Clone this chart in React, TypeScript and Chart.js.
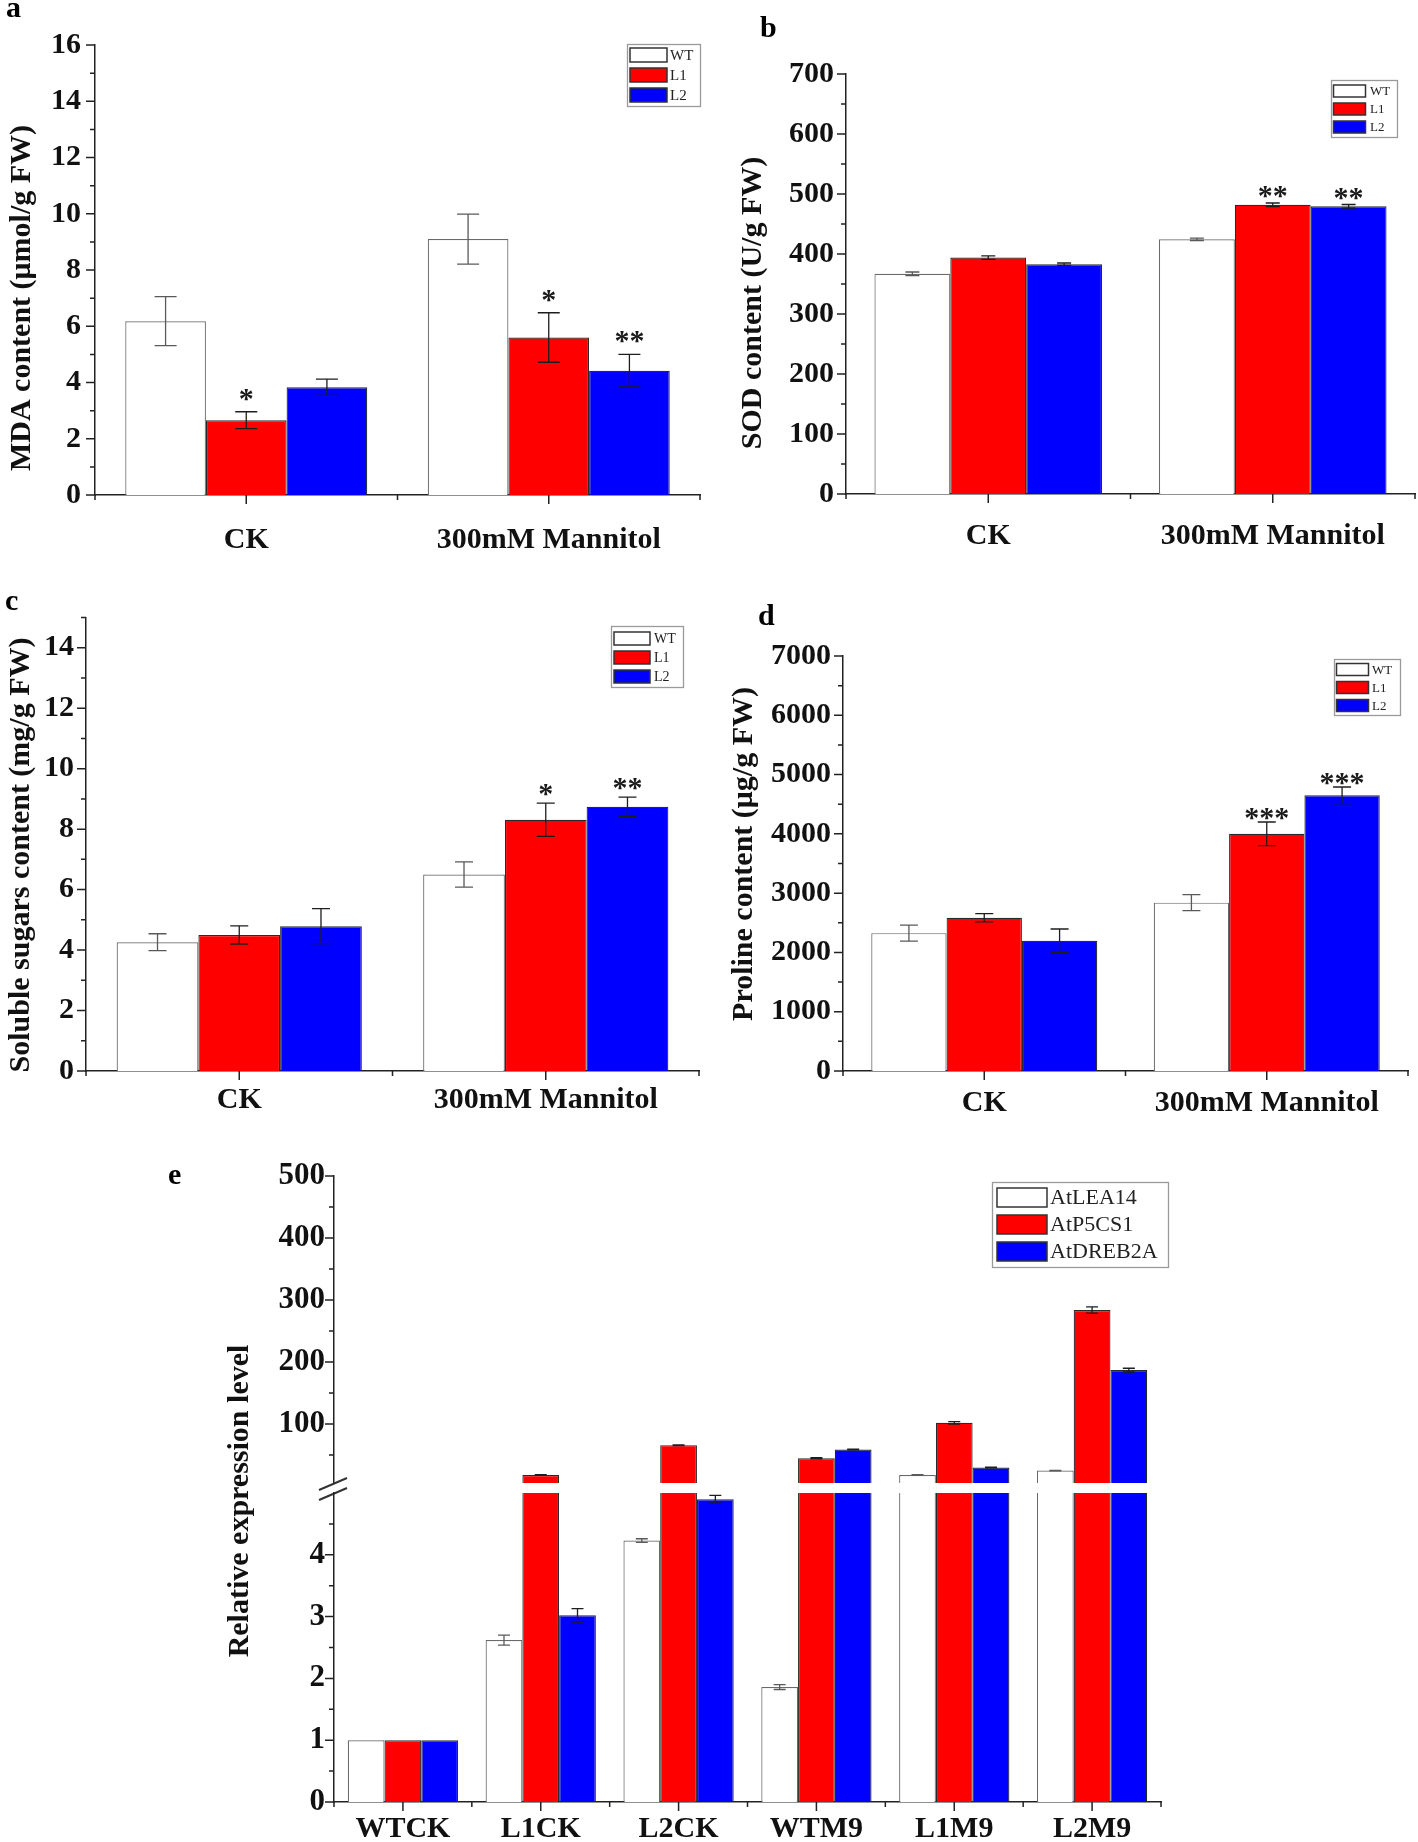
import React, { useEffect, useRef } from 'react';
import { Chart, registerables } from 'chart.js';

Chart.register(...registerables);

const FONT = "'Liberation Serif', 'Times New Roman', Times, serif";
const WHITE = '#ffffff';
const RED = '#ff0000';
const BLUE = '#0000ff';

// ---------- shared categories ----------
const groupLabels = ['CK', '300mM Mannitol'];
const lineNames = ['WT', 'L1', 'L2'];

// ---------- panel a: MDA content (μmol/g FW) ----------
const mdaWT = [6.18, 9.1];
const mdaWTsd = [0.87, 0.89];
const mdaL1 = [2.66, 5.6];
const mdaL1sd = [0.3, 0.88];
const mdaL2 = [3.83, 4.42];
const mdaL2sd = [0.29, 0.58];
const mdaStarsL1 = ['*', '*'];
const mdaStarsL2 = ['', '**'];

// ---------- panel b: SOD content (U/g FW) ----------
const sodWT = [367, 424.5];
const sodWTsd = [3, 2];
const sodL1 = [394, 482];
const sodL1sd = [3, 3];
const sodL2 = [383, 479.5];
const sodL2sd = [2, 3];
const sodStarsL1 = ['', '**'];
const sodStarsL2 = ['', '**'];

// ---------- panel c: Soluble sugars content (mg/g FW) ----------
const sugWT = [4.26, 6.5];
const sugWTsd = [0.28, 0.42];
const sugL1 = [4.5, 8.31];
const sugL1sd = [0.3, 0.55];
const sugL2 = [4.79, 8.74];
const sugL2sd = [0.58, 0.32];
const sugStarsL1 = ['', '*'];
const sugStarsL2 = ['', '**'];

// ---------- panel d: Proline content (μg/g FW) ----------
const proWT = [2325, 2840];
const proWTsd = [135, 135];
const proL1 = [2584, 4000];
const proL1sd = [70, 200];
const proL2 = [2195, 4650];
const proL2sd = [200, 140];
const proStarsL1 = ['', '***'];
const proStarsL2 = ['', '***'];

// ---------- panel e: relative expression ----------
const sampleLabels = ['WTCK', 'L1CK', 'L2CK', 'WTM9', 'L1M9', 'L2M9'];
const geneNames = ['AtLEA14', 'AtP5CS1', 'AtDREB2A'];
const lea14 = [1, 2.62, 4.23, 1.86, 18, 25];
const lea14sd = [0, 0.08, 0.03, 0.04, 0.4, 0.5];
const p5cs1 = [1, 18, 66, 45, 102, 284];
const p5cs1sd = [0, 0.6, 0.6, 1, 2, 5];
const dreb2a = [1, 3.02, 4.9, 59, 30, 187];
const dreb2asd = [0, 0.11, 0.06, 0.6, 0.6, 3];

// ---------- types ----------
type Rect = { left: number; top: number; w: number; h: number };
type Area = { l: number; t: number; r: number; b: number };
type Series = {
  label: string;
  data: number[];
  sd: number[];
  stars?: string[];
  fill: string;
  edge: string;
  errColor: string;
};
type LegendSpec = {
  x: number; y: number; w: number; h: number;
  sx: number; sw: number; sh: number; first: number; pitch: number;
  tx: number; fs: number;
};
type Spec = {
  canvas: Rect;
  area: Area;
  labels: string[];
  series: Series[];
  y: { min: number; max: number; major: number; minor: number; labelMin?: number; labelMax?: number; skipMin?: boolean; skipMax?: boolean };
  showX: boolean;
  xPad: number;
  xFont: number;
  yFont: number;
  yPad: number;
  yTitle?: { text: string; cx: number; cy: number; size: number };
  tag?: { text: string; x: number; y: number; size: number };
  legend?: LegendSpec;
  starOffset: number;
  cap: number;
  breakMarks?: number[][];
};

function threeSeries(
  names: string[],
  vals: number[][],
  sds: number[][],
  stars: (string[] | undefined)[],
): Series[] {
  const fills = [WHITE, RED, BLUE];
  return names.map((n, i) => ({
    label: n,
    data: vals[i],
    sd: sds[i],
    stars: stars[i],
    fill: fills[i],
    edge: i === 0 ? '#6a6a6a' : '#2a2a2a',
    errColor: i === 0 ? '#5a5a5a' : '#1e1e1e',
  }));
}

function makeChart(el: HTMLCanvasElement, s: Spec) {
  const ox = s.canvas.left;
  const oy = s.canvas.top;
  const A = { l: s.area.l - ox, t: s.area.t - oy, r: s.area.r - ox, b: s.area.b - oy };
  const yWidth = A.l;
  const xHeight = s.showX ? s.canvas.h - A.b : 0;
  const padBottom = s.showX ? 0 : s.canvas.h - A.b;
  const padRight = s.canvas.w - A.r;

  // labelled (major) tick values for the y scale
  const majorTicks: number[] = [];
  {
    const y = s.y;
    const first = Math.ceil(y.min / y.major - 1e-9) * y.major;
    for (let v = first; v <= y.max + 1e-9; v += y.major) {
      if (y.labelMin !== undefined && v < y.labelMin) continue;
      if (y.labelMax !== undefined && v > y.labelMax) continue;
      majorTicks.push(Math.round(v * 1e6) / 1e6);
    }
  }

  const decor = {
    id: 'decor',
    afterDatasetsDraw(chart: any) {
      const ctx = chart.ctx as CanvasRenderingContext2D;
      const ys = chart.scales.y;
      ctx.save();
      s.series.forEach((ser, i) => {
        const meta = chart.getDatasetMeta(i);
        ser.data.forEach((v, j) => {
          const e = ser.sd[j];
          const bar = meta.data[j] as any;
          const x = bar.x;
          if (e > 0 && v - e >= s.y.min && v + e <= s.y.max) {
            const yt = ys.getPixelForValue(v + e);
            const yb = ys.getPixelForValue(v - e);
            ctx.strokeStyle = ser.errColor;
            ctx.lineWidth = 1.3;
            ctx.beginPath();
            ctx.moveTo(x, yt);
            ctx.lineTo(x, yb);
            ctx.moveTo(x - s.cap, yt);
            ctx.lineTo(x + s.cap, yt);
            ctx.moveTo(x - s.cap, yb);
            ctx.lineTo(x + s.cap, yb);
            ctx.stroke();
          }
          const st = ser.stars ? ser.stars[j] : '';
          if (st) {
            ctx.fillStyle = '#1a1a1a';
            ctx.font = `bold 30px ${FONT}`;
            ctx.textAlign = 'center';
            ctx.textBaseline = 'alphabetic';
            ctx.fillText(st, x, ys.getPixelForValue(v + e) - s.starOffset + 14);
          }
        });
      });
      ctx.restore();
    },
    afterDraw(chart: any) {
      const ctx = chart.ctx as CanvasRenderingContext2D;
      const ys = chart.scales.y;
      const xs = chart.scales.x;
      const ca = chart.chartArea;
      ctx.save();
      ctx.strokeStyle = '#222';
      ctx.lineWidth = 1.5;
      // y tick marks (major + minor)
      const y = s.y;
      const start = Math.ceil(y.min / y.minor - 1e-9) * y.minor;
      ctx.beginPath();
      for (let v = start; v <= y.max + 1e-9; v += y.minor) {
        if (y.skipMin && Math.abs(v - y.min) < 1e-9) continue;
        if (y.skipMax && Math.abs(v - y.max) < 1e-9) continue;
        const major = Math.abs(v / y.major - Math.round(v / y.major)) < 1e-9;
        const len = major ? 9 : 5;
        const py = ys.getPixelForValue(v);
        ctx.moveTo(ca.left - len, py);
        ctx.lineTo(ca.left, py);
      }
      ctx.stroke();
      // x tick marks
      if (s.showX) {
        const n = s.labels.length;
        ctx.beginPath();
        for (let i = 0; i < n; i++) {
          const px = xs.getPixelForValue(i);
          ctx.moveTo(px, ca.bottom);
          ctx.lineTo(px, ca.bottom + 9);
        }
        for (let i = 0; i <= n; i++) {
          const bx = ca.left + (i * (ca.right - ca.left)) / n;
          ctx.moveTo(bx, ca.bottom);
          ctx.lineTo(bx, ca.bottom + 5);
        }
        ctx.stroke();
      }
      // axis break marks
      if (s.breakMarks) {
        ctx.strokeStyle = '#333';
        ctx.lineWidth = 2;
        ctx.beginPath();
        s.breakMarks.forEach((m) => {
          ctx.moveTo(m[0] - ox, m[1] - oy);
          ctx.lineTo(m[2] - ox, m[3] - oy);
        });
        ctx.stroke();
      }
      // y title
      if (s.yTitle) {
        ctx.save();
        ctx.translate(s.yTitle.cx - ox, s.yTitle.cy - oy);
        ctx.rotate(-Math.PI / 2);
        ctx.fillStyle = '#111';
        ctx.font = `bold ${s.yTitle.size}px ${FONT}`;
        ctx.textAlign = 'center';
        ctx.textBaseline = 'middle';
        ctx.fillText(s.yTitle.text, 0, 0);
        ctx.restore();
      }
      // panel tag
      if (s.tag) {
        ctx.fillStyle = '#000';
        ctx.font = `bold ${s.tag.size}px ${FONT}`;
        ctx.textAlign = 'left';
        ctx.textBaseline = 'alphabetic';
        ctx.fillText(s.tag.text, s.tag.x - ox, s.tag.y - oy);
      }
      // legend
      if (s.legend) {
        const L = s.legend;
        const lx = L.x - ox;
        const ly = L.y - oy;
        ctx.fillStyle = '#fff';
        ctx.fillRect(lx, ly, L.w, L.h);
        ctx.strokeStyle = '#9a9a9a';
        ctx.lineWidth = 1.3;
        ctx.strokeRect(lx + 0.5, ly + 0.5, L.w, L.h);
        s.series.forEach((ser, i) => {
          const sy = ly + L.first + i * L.pitch;
          ctx.fillStyle = ser.fill;
          ctx.fillRect(lx + L.sx, sy, L.sw, L.sh);
          ctx.strokeStyle = '#333';
          ctx.lineWidth = 1.5;
          ctx.strokeRect(lx + L.sx, sy, L.sw, L.sh);
          ctx.fillStyle = '#222';
          ctx.font = `${L.fs}px ${FONT}`;
          ctx.textAlign = 'left';
          ctx.textBaseline = 'middle';
          ctx.fillText(ser.label, lx + L.tx, sy + L.sh / 2 + 1);
        });
      }
      ctx.restore();
    },
  };

  return new Chart(el, {
    type: 'bar',
    data: {
      labels: s.labels,
      datasets: s.series.map((ser) => ({
        label: ser.label,
        data: ser.data,
        backgroundColor: ser.fill,
        borderColor: ser.edge,
        borderWidth: 1.2,
        borderSkipped: 'start',
        categoryPercentage: 0.8,
        barPercentage: 1,
        clip: 0,
      })),
    },
    options: {
      animation: false,
      responsive: false,
      maintainAspectRatio: false,
      layout: { padding: { left: 0, top: A.t, right: padRight, bottom: padBottom } },
      plugins: { legend: { display: false }, tooltip: { enabled: false } },
      scales: {
        x: {
          type: 'category',
          display: s.showX,
          offset: true,
          z: 1,
          grid: { display: false, drawTicks: false },
          border: { display: true, color: '#222', width: 1.5 },
          ticks: {
            font: { family: FONT, size: s.xFont, weight: 'bold' },
            color: '#111',
            padding: s.xPad,
            maxRotation: 0,
            autoSkip: false,
          },
          afterFit: (sc: any) => {
            sc.height = xHeight;
            sc.paddingLeft = 0;
            sc.paddingRight = 0;
          },
        },
        y: {
          type: 'linear',
          min: s.y.min,
          max: s.y.max,
          z: 1,
          grid: { display: false, drawTicks: false },
          border: { display: true, color: '#222', width: 1.5 },
          ticks: {
            stepSize: s.y.major,
            includeBounds: false,
            maxTicksLimit: 100,
            autoSkip: false,
            font: { family: FONT, size: s.yFont, weight: 'bold' },
            color: '#111',
            padding: s.yPad,
            callback: (v: any) => String(Number(v)),
          },
          afterBuildTicks: (sc: any) => {
            sc.ticks = majorTicks.map((v) => ({ value: v }));
          },
          afterFit: (sc: any) => {
            sc.width = yWidth;
            sc.paddingTop = 0;
            sc.paddingBottom = 0;
          },
        },
      },
    },
    plugins: [decor],
  } as any);
}

// ---------- panel specs ----------
const specA: Spec = {
  canvas: { left: 0, top: 0, w: 712, h: 580 },
  area: { l: 95, t: 45, r: 700, b: 495 },
  labels: groupLabels,
  series: threeSeries(lineNames, [mdaWT, mdaL1, mdaL2], [mdaWTsd, mdaL1sd, mdaL2sd], [undefined, mdaStarsL1, mdaStarsL2]),
  y: { min: 0, max: 16, major: 2, minor: 1 },
  showX: true, xPad: 27, xFont: 30, yFont: 30, yPad: 14,
  yTitle: { text: 'MDA content (μmol/g FW)', cx: 22, cy: 298, size: 30 },
  tag: { text: 'a', x: 6, y: 17, size: 30 },
  legend: { x: 627, y: 44, w: 73, h: 62, sx: 3, sw: 37, sh: 14, first: 4, pitch: 20, tx: 43, fs: 15 },
  starOffset: 18, cap: 11,
};

const specB: Spec = {
  canvas: { left: 720, top: 0, w: 698, h: 580 },
  area: { l: 846, t: 74, r: 1415, b: 494 },
  labels: groupLabels,
  series: threeSeries(lineNames, [sodWT, sodL1, sodL2], [sodWTsd, sodL1sd, sodL2sd], [undefined, sodStarsL1, sodStarsL2]),
  y: { min: 0, max: 700, major: 100, minor: 50 },
  showX: true, xPad: 24, xFont: 30, yFont: 30, yPad: 12,
  yTitle: { text: 'SOD content (U/g FW)', cx: 753, cy: 303, size: 30 },
  tag: { text: 'b', x: 760, y: 37, size: 30 },
  legend: { x: 1331, y: 80, w: 66, h: 57, sx: 2.5, sw: 32, sh: 12, first: 5, pitch: 18, tx: 39, fs: 13 },
  starOffset: 12, cap: 7,
};

const specC: Spec = {
  canvas: { left: 0, top: 580, w: 712, h: 560 },
  area: { l: 86, t: 617.5, r: 699, b: 1071 },
  labels: groupLabels,
  series: threeSeries(lineNames, [sugWT, sugL1, sugL2], [sugWTsd, sugL1sd, sugL2sd], [undefined, sugStarsL1, sugStarsL2]),
  y: { min: 0, max: 15, major: 2, minor: 1 },
  showX: true, xPad: 11, xFont: 30, yFont: 30, yPad: 12,
  yTitle: { text: 'Soluble sugars content (mg/g FW)', cx: 21, cy: 855, size: 30 },
  tag: { text: 'c', x: 5, y: 610, size: 30 },
  legend: { x: 611, y: 626, w: 72, h: 61, sx: 3, sw: 36, sh: 13, first: 6, pitch: 19, tx: 43, fs: 14 },
  starOffset: 14, cap: 9,
};

const specD: Spec = {
  canvas: { left: 720, top: 580, w: 698, h: 560 },
  area: { l: 843, t: 656, r: 1408, b: 1071 },
  labels: groupLabels,
  series: threeSeries(lineNames, [proWT, proL1, proL2], [proWTsd, proL1sd, proL2sd], [undefined, proStarsL1, proStarsL2]),
  y: { min: 0, max: 7000, major: 1000, minor: 500 },
  showX: true, xPad: 14, xFont: 30, yFont: 30, yPad: 12,
  yTitle: { text: 'Proline content (μg/g FW)', cx: 744, cy: 854, size: 30 },
  tag: { text: 'd', x: 758, y: 625, size: 30 },
  legend: { x: 1334, y: 659, w: 66, h: 56, sx: 2.5, sw: 32, sh: 12, first: 4.5, pitch: 18, tx: 38, fs: 13 },
  starOffset: 9, cap: 9,
};

const geneSeries = threeSeries(geneNames, [lea14, p5cs1, dreb2a], [lea14sd, p5cs1sd, dreb2asd], [undefined, undefined, undefined]);

const specEUpper: Spec = {
  canvas: { left: 150, top: 1140, w: 1050, h: 702 },
  area: { l: 334, t: 1176, r: 1161, b: 1483 },
  labels: sampleLabels,
  series: geneSeries,
  y: { min: 5, max: 500, major: 100, minor: 50, labelMin: 100, skipMin: true },
  showX: false, xPad: 9, xFont: 30, yFont: 31, yPad: 9,
  yTitle: { text: 'Relative expression level', cx: 240, cy: 1501, size: 30 },
  tag: { text: 'e', x: 168, y: 1184, size: 30 },
  legend: { x: 992, y: 1182, w: 176, h: 85, sx: 5, sw: 50, sh: 19, first: 6, pitch: 27, tx: 58, fs: 22 },
  starOffset: 0, cap: 6,
  breakMarks: [[319, 1490, 347, 1478], [319, 1500, 347, 1488]],
};

const specELower: Spec = {
  canvas: { left: 150, top: 1473, w: 1050, h: 369 },
  area: { l: 334, t: 1493, r: 1161, b: 1802 },
  labels: sampleLabels,
  series: geneSeries,
  y: { min: 0, max: 5, major: 1, minor: 0.5, labelMax: 4, skipMax: true },
  showX: true, xPad: 9, xFont: 30, yFont: 31, yPad: 9,
  starOffset: 0, cap: 6,
};

function Panel({ spec }: { spec: Spec }) {
  const ref = useRef<HTMLCanvasElement>(null);
  useEffect(() => {
    if (!ref.current) return;
    const chart = makeChart(ref.current, spec);
    return () => chart.destroy();
  }, [spec]);
  const c = spec.canvas;
  return (
    <canvas
      ref={ref}
      width={c.w}
      height={c.h}
      style={{ position: 'absolute', left: c.left, top: c.top, width: c.w, height: c.h }}
    />
  );
}

export default function App() {
  return (
    <div
      style={{
        position: 'absolute',
        left: 0,
        top: 0,
        width: 1418,
        height: 1842,
        background: '#ffffff',
        overflow: 'hidden',
      }}
    >
      <Panel spec={specA} />
      <Panel spec={specB} />
      <Panel spec={specC} />
      <Panel spec={specD} />
      <Panel spec={specEUpper} />
      <Panel spec={specELower} />
    </div>
  );
}
